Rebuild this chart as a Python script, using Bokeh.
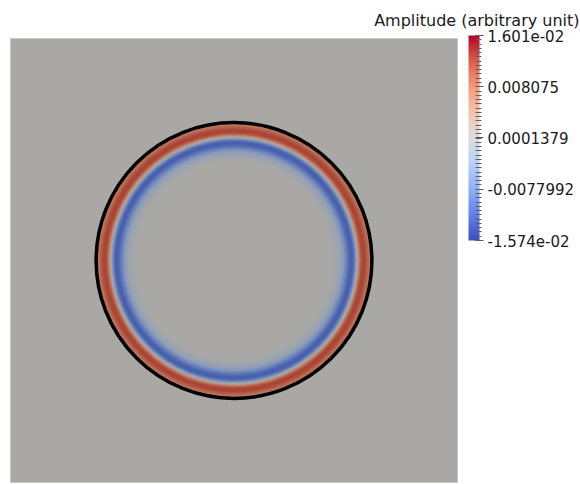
import numpy as np
from bokeh.plotting import figure
from bokeh.models import (ColumnDataSource, LinearColorMapper, ColorBar,
                          FixedTicker, AllLabels)
from bokeh.transform import linear_cmap
from bokeh.embed import file_html
from bokeh.resources import INLINE

# ---------------- data ----------------
amp_min = -0.01574
amp_max = 0.01601
tick_values = [0.01601, 0.008075, 0.0001379, -0.0077992, -0.01574]
tick_labels = ["1.601e-02", "0.008075", "0.0001379", "-0.0077992", "-1.574e-02"]

# radial amplitude profile of the wave (radius in domain units, domain = [-1,1]^2)
ring_radius = [0.440, 0.450, 0.460, 0.470, 0.480, 0.490, 0.500, 0.505, 0.510,
               0.515, 0.520, 0.525, 0.530, 0.535, 0.540, 0.545, 0.550, 0.555,
               0.560, 0.565, 0.570, 0.575, 0.580, 0.585, 0.590, 0.595, 0.600,
               0.605, 0.610]
ring_amp = [-0.0002, -0.0005, -0.0010, -0.0018, -0.0030, -0.0048, -0.0072,
            -0.0086, -0.0100, -0.0110, -0.0118, -0.0121, -0.0118, -0.0105,
            -0.0082, -0.0050, -0.0012, 0.0028, 0.0065, 0.0094, 0.0112, 0.0121,
            0.0123, 0.0120, 0.0113, 0.0103, 0.0092, 0.0082, 0.0075]
boundary_radius = 0.617

# ---------------- colours ----------------
ctrl = np.array([(59, 76, 192), (98, 130, 234), (141, 176, 254), (184, 208, 249),
                 (221, 221, 221), (245, 196, 173), (244, 154, 123), (222, 96, 77),
                 (180, 4, 38)], dtype=float)
t = np.linspace(0, 1, 256)
tc = np.linspace(0, 1, len(ctrl))
rgb = np.stack([np.interp(t, tc, ctrl[:, k]) for k in range(3)], axis=1)

def to_hex(a):
    return ["#%02x%02x%02x" % tuple(int(round(v)) for v in c) for c in a]

cbar_palette = to_hex(rgb)
shade = np.array([0.772, 0.762, 0.742])
field_palette = to_hex(np.clip(rgb * shade, 0, 255))
bg_color = field_palette[int(round((0 - amp_min) / (amp_max - amp_min) * 255))]

FONT = "DejaVu Sans"

# ---------------- figure ----------------
p = figure(width=580, height=484, x_range=(-1, 1), y_range=(-1, 1),
           output_backend="svg", toolbar_location=None,
           min_border_left=10, min_border_right=123, min_border_top=35,
           min_border_bottom=2)
p.axis.visible = False
p.grid.visible = False
p.outline_line_color = "#c8c8c8"
p.background_fill_color = bg_color
p.border_fill_color = "white"

p.title.text = "Amplitude (arbitrary unit)"
p.title.align = "right"
p.title.offset = -122
p.title.standoff = 17
p.title.text_font = FONT
p.title.text_font_size = "16px"
p.title.text_font_style = "normal"
p.title.text_color = "#1a1a1a"

# rings: discs painted from the outside in
r = np.array(ring_radius)
edges = np.concatenate([[r[0] - 0.005], (r[:-1] + r[1:]) / 2, [r[-1] + 0.0025]])
outer = edges[1:]
order = np.argsort(-outer)
src = ColumnDataSource(dict(x=np.zeros(len(r)), y=np.zeros(len(r)),
                            rad=outer[order], amp=np.array(ring_amp)[order]))
p.circle(x="x", y="y", radius="rad", source=src, line_color=None,
         fill_color=linear_cmap("amp", field_palette, amp_min, amp_max))
p.circle(x=[0], y=[0], radius=[edges[0]], line_color=None, fill_color=bg_color)

# boundary of the domain
p.circle(x=[0], y=[0], radius=[boundary_radius], fill_color=None,
         line_color="black", line_width=3.5)

# ---------------- colour bar ----------------
mapper = LinearColorMapper(palette=cbar_palette, low=amp_min, high=amp_max)
minor = list(np.linspace(amp_min, amp_max, 49))
cb = ColorBar(color_mapper=mapper,
              ticker=FixedTicker(ticks=tick_values, minor_ticks=minor),
              major_label_overrides={v: s for v, s in zip(tick_values, tick_labels)},
              major_label_policy=AllLabels(),
              width=11, height=205, location=(458, 242), padding=0, margin=0,
              bar_line_color=None, border_line_color=None,
              background_fill_alpha=0,
              major_tick_line_color="#505050", minor_tick_line_color="#606060",
              major_tick_in=4, major_tick_out=4, minor_tick_in=4, minor_tick_out=2,
              label_standoff=4,
              major_label_text_font=FONT, major_label_text_font_size="15px",
              major_label_text_color="#1a1a1a")
p.add_layout(cb, "center")

open("out.html", "w").write(file_html(p, INLINE))
